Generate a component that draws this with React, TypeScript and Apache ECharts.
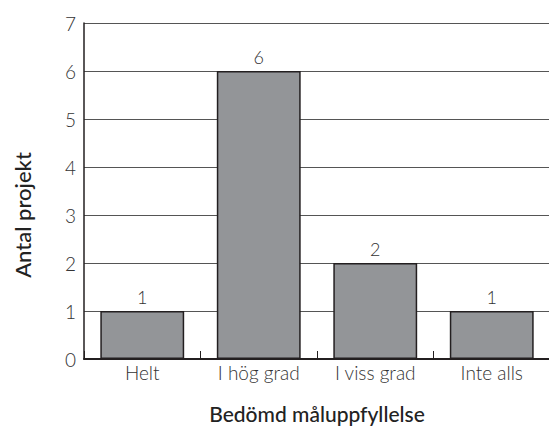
import React, { useEffect, useRef } from "react";
import * as echarts from "echarts";

const categories = ["Helt", "I hög grad", "I viss grad", "Inte alls"];
const values = [1, 6, 2, 1];
const yAxisName = "Antal projekt";
const xAxisName = "Bedömd måluppfyllelse";

const FONT = "Lato";

export default function App() {
  const ref = useRef<HTMLDivElement>(null);
  useEffect(() => {
    if (!ref.current) return;
    const chart = echarts.init(ref.current, undefined, { renderer: "svg" });
    chart.setOption({
      animation: false,
      grid: { left: 84, right: -1, top: 23, bottom: 68, containLabel: false, outerBoundsMode: "none" },
      xAxis: {
        type: "category",
        data: categories,
        name: xAxisName,
        nameLocation: "middle",
        nameGap: 44,
        nameTextStyle: { fontFamily: FONT, fontSize: 21, color: "#222", fontWeight: 500 },
        axisLine: { lineStyle: { color: "#231f20", width: 2 } },
        axisTick: { show: true, inside: true, length: 8, lineStyle: { color: "#231f20", width: 1 } },
        axisLabel: { fontFamily: FONT, fontSize: 19, color: "#333", fontWeight: 300, margin: 4 },
      },
      yAxis: {
        type: "value",
        min: 0,
        max: 7,
        interval: 1,
        name: yAxisName,
        nameLocation: "middle",
        nameGap: 51,
        nameTextStyle: {
          fontFamily: FONT,
          fontSize: 22,
          color: "#222",
          fontWeight: 500,
          padding: [0, 48, 0, 0],
        },
        axisLine: { show: true, lineStyle: { color: "#231f20", width: 1.5 } },
        axisTick: { show: false },
        axisLabel: { fontFamily: FONT, fontSize: 19, color: "#333", fontWeight: 300, margin: 8 },
        splitLine: { lineStyle: { color: "#555", width: 1 } },
      },
      series: [
        {
          type: "bar",
          data: values,
          barCategoryGap: "28%",
          itemStyle: { color: "#939598", borderColor: "#231f20", borderWidth: 1.5 },
          label: {
            show: true,
            position: "top",
            distance: 5,
            fontFamily: FONT,
            fontSize: 18,
            fontWeight: 300,
            color: "#333",
          },
        },
      ],
    });
    return () => chart.dispose();
  }, []);
  return <div ref={ref} style={{ width: 549, height: 427, position: "absolute", left: 0, top: 0 }} />;
}
